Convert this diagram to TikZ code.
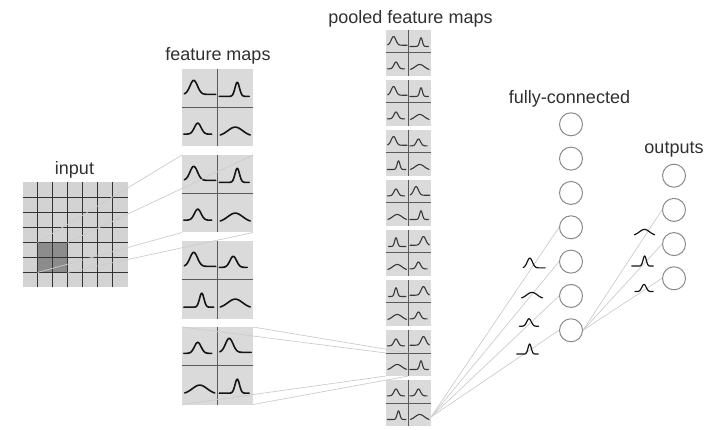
\documentclass[tikz,border=0pt]{standalone}
\usepackage{fontspec}
\setmainfont{Liberation Sans}
\usetikzlibrary{calc}
\definecolor{boxfill}{HTML}{DADADA}
\definecolor{gridfill}{HTML}{D3D3D3}
\definecolor{darkcell}{HTML}{8C8C8C}
\definecolor{gridline}{HTML}{333333}
\definecolor{divline}{HTML}{5A5A5A}
\definecolor{connc}{HTML}{CCCCCC}
\definecolor{circc}{HTML}{8A8A8A}
\definecolor{txtc}{HTML}{303030}
\definecolor{crvc}{HTML}{151515}

\newcommand{\crvA}[1]{\draw[#1] plot[domain=-15.5:16,samples=50,smooth] (\x,{6-14*exp(-((\x+6)*(\x+6))/28)});}
\newcommand{\crvF}[1]{\draw[#1] plot[domain=-16:15.5,samples=50,smooth] (\x,{6-14*exp(-((\x-6)*(\x-6))/28)});}
\newcommand{\crvB}[1]{\draw[#1] plot[domain=-16:14,samples=50,smooth] (\x,{8-14*exp(-((\x-2)*(\x-2))/10)});}
\newcommand{\crvE}[1]{\draw[#1] plot[domain=-14:14,samples=50,smooth] (\x,{8-14*exp(-((\x+2)*(\x+2))/10)});}
\newcommand{\crvC}[1]{\draw[#1] plot[domain=-16:12,samples=50,smooth] (\x,{7-11*exp(-((\x+2)*(\x+2))/22)});}
\newcommand{\crvD}[1]{\draw[#1] plot[domain=-15:15,samples=50,smooth] (\x,{9-9*exp(-(\x*\x)/110)});}
\newcommand{\crv}[4]{\begin{scope}[shift={#1},scale=#3]\csname crv#2\endcsname{#4}\end{scope}}
\newcommand{\quadcurves}[9]{%
 \crv{($(#1.center)+(-#2,-#3)$)}{#6}{#4}{#5}%
 \crv{($(#1.center)+(#2,-#3)$)}{#7}{#4}{#5}%
 \crv{($(#1.center)+(-#2,#3)$)}{#8}{#4}{#5}%
 \crv{($(#1.center)+(#2,#3)$)}{#9}{#4}{#5}}

\begin{document}
\begin{tikzpicture}[x=1pt,y=-1pt,
  fmap/.style={rectangle,fill=boxfill,draw=none,inner sep=0pt,outer sep=0pt,minimum width=71pt,minimum height=77.5pt,anchor=north west},
  pbox/.style={rectangle,fill=boxfill,draw=none,inner sep=0pt,outer sep=0pt,minimum width=45pt,minimum height=46pt,anchor=north west},
  inbox/.style={rectangle,fill=gridfill,draw=none,inner sep=0pt,outer sep=0pt,minimum width=105pt,minimum height=105pt,anchor=north west},
  darkbox/.style={rectangle,fill=darkcell,draw=none,inner sep=0pt,outer sep=0pt,minimum width=30pt,minimum height=30pt,anchor=north west},
  gridl/.style={draw=gridline,line width=1.4pt},
  divl/.style={draw=divline,line width=1pt},
  connl/.style={draw=connc,line width=0.7pt},
  neuron/.style={circle,draw=circc,fill=white,line width=1pt,minimum size=23pt,inner sep=0pt},
  lbl/.style={text=txtc,font=\fontsize{18}{20}\selectfont,inner sep=0pt,anchor=base},
  fcurve/.style={draw=crvc,line width=1.6pt,line cap=round,line join=round},
  pcurve/.style={draw=crvc!85!white,line width=1.1pt,line cap=round,line join=round},
  wcurve/.style={draw=crvc,line width=1.2pt,line cap=round,line join=round}]
\useasboundingbox (0,0) rectangle (720,430);

% labels
\node[lbl] (tin) at (74.5,175) {input};
\node[lbl] (tfm) at (218,60.5) {feature maps};
\node[lbl] (tpm) at (410.5,23.5) {pooled feature maps};
\node[lbl] (tfc) at (569.5,103.3) {fully-connected};
\node[lbl] (tout) at (674,154) {outputs};

% input grid
\node[inbox] (inp) at (22.5,182.5) {};
\node[darkbox] (dark) at (37.5,242.5) {};
\foreach \i in {1,...,6} {
  \draw[gridl] ($(inp.north west)+(\i*15,0)$) -- ($(inp.south west)+(\i*15,0)$);
  \draw[gridl] ($(inp.north west)+(0,\i*15)$) -- ($(inp.north east)+(0,\i*15)$);
}

% feature maps
\node[fmap] (m1) at (182,69) {};
\node[fmap] (m2) at (182,155) {};
\node[fmap] (m3) at (182,241) {};
\node[fmap] (m4) at (182,327) {};
\foreach \m in {m1,m2,m3,m4} {
  \draw[divl] (\m.north) -- (\m.south);
  \draw[divl] (\m.west) -- (\m.east);
}
\quadcurves{m1}{17.75}{19.4}{1}{fcurve}{A}{B}{C}{D}
\quadcurves{m2}{17.75}{19.4}{1}{fcurve}{A}{B}{C}{D}
\quadcurves{m3}{17.75}{19.4}{1}{fcurve}{A}{C}{B}{D}
\quadcurves{m4}{17.75}{19.4}{1}{fcurve}{C}{A}{D}{B}

% pooled maps
\foreach \k in {1,...,8} {
  \node[pbox] (p\k) at (386,{30+50*(\k-1)}) {};
  \draw[divl] (p\k.north) -- (p\k.south);
  \draw[divl] (p\k.west) -- (p\k.east);
}
\quadcurves{p1}{11.25}{11.5}{0.62}{pcurve}{A}{B}{C}{D}
\quadcurves{p2}{11.25}{11.5}{0.62}{pcurve}{A}{B}{C}{D}
\quadcurves{p3}{11.25}{11.5}{0.62}{pcurve}{A}{C}{B}{D}
\quadcurves{p4}{11.25}{11.5}{0.62}{pcurve}{C}{A}{D}{B}
\quadcurves{p5}{11.25}{11.5}{0.62}{pcurve}{E}{F}{D}{C}
\quadcurves{p6}{11.25}{11.5}{0.62}{pcurve}{E}{F}{D}{C}
\quadcurves{p7}{11.25}{11.5}{0.62}{pcurve}{C}{F}{D}{B}
\quadcurves{p8}{11.25}{11.5}{0.62}{pcurve}{C}{C}{B}{D}

% neurons
\foreach \k in {1,...,7} \node[neuron] (f\k) at (571,{124.3+34.33*(\k-1)}) {};
\foreach \k in {1,...,4} \node[neuron] (o\k) at (674,{175.7+34.2*(\k-1)}) {};

% connectors
\draw[connl] (dark.north west) -- (m2.north west);
\draw[connl] (dark.north east) -- (m2.north east);
\draw[connl] (dark.south west) -- (m2.south west);
\draw[connl] (dark.south east) -- (m2.south east);

\draw[connl] (m4.north west) -- (p7.west);
\draw[connl] (m4.north east) -- (p7.center);
\draw[connl] (m4.south west) -- (p7.south west);
\draw[connl] (m4.south east) -- (p7.south);

\coordinate (p8o) at ($(p8.south east)+(0,-9)$);
\foreach \k in {4,...,7} \draw[connl] (p8o) -- (f\k.west);
\foreach \k in {2,3,4} \draw[connl] (f7.east) -- (o\k.west);

% weight curves
\crv{(534,263.7)}{A}{0.7}{wcurve}
\crv{(532,292.4)}{D}{0.7}{wcurve}
\crv{(530.4,321.5)}{C}{0.68}{wcurve}
\crv{(528.2,348.3)}{B}{0.72}{wcurve}
\crv{(644.5,229.4)}{D}{0.68}{wcurve}
\crv{(643.2,260.3)}{B}{0.72}{wcurve}
\crv{(645.3,287)}{C}{0.65}{wcurve}
\end{tikzpicture}
\end{document}
